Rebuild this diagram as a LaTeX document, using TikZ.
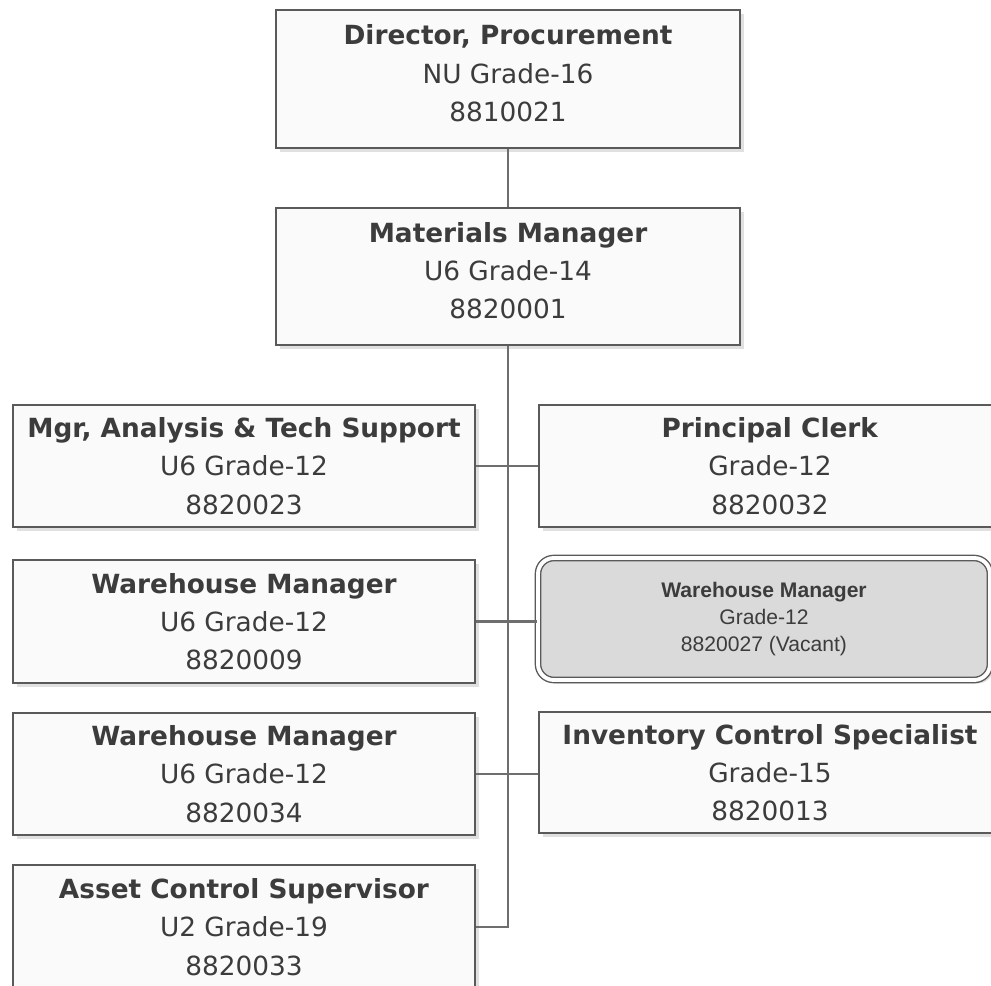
\documentclass[tikz,border=0pt]{standalone}
\usepackage{fontspec}
\setmainfont{DejaVu Sans}
\newfontfamily\arialfont{Liberation Sans}
\usetikzlibrary{shadows}
\definecolor{inkgray}{HTML}{3C3C3C}
\definecolor{linegray}{HTML}{5A5A5A}
\definecolor{linkgray}{HTML}{6E6E6E}
\definecolor{boxfill}{HTML}{FAFAFA}
\definecolor{vacfill}{HTML}{DADADA}
\tikzset{
  x=0.02cm, y=-0.02cm,
  post/.style={draw=linegray, line width=1pt, fill=boxfill, text=inkgray,
    align=center, inner sep=0pt,
    font=\fontsize{15pt}{21.8pt}\selectfont,
    drop shadow={shadow xshift=2pt, shadow yshift=-2pt, fill=black, opacity=0.12}},
  vacant/.style={draw=linegray, double=white, double distance=2.2pt, line width=0.8pt,
    rounded corners=9pt, fill=vacfill, text=inkgray, align=center, inner sep=0pt,
    font=\arialfont\fontsize{12pt}{15.6pt}\selectfont,
    drop shadow={shadow xshift=2pt, shadow yshift=-2pt, fill=black, opacity=0.12}},
  link/.style={draw=linkgray, line width=1.5pt},
}
% three-line post label: title, grade, position number
\newcommand{\pbox}[3]{\textbf{#1}\\#2\\#3}
% same label, set a little above centre in the taller boxes
\newcommand{\pboxtall}[3]{\textbf{#1}\\#2\\#3\\[-15pt]\mbox{}}
\begin{document}
\begin{tikzpicture}
\useasboundingbox (0,0) rectangle (991,986);
\begin{scope}
\clip (0,0) rectangle (991,986);

% upper chain
\node[post, minimum width=464*0.02cm, minimum height=138*0.02cm] (dir) at (508,79)
  {\pboxtall{Director, Procurement}{NU Grade-16}{8810021}};
\node[post, minimum width=464*0.02cm, minimum height=137*0.02cm] (mat) at (508,276.5)
  {\pboxtall{Materials Manager}{U6 Grade-14}{8820001}};

% left column
\node[post, minimum width=462*0.02cm, minimum height=122*0.02cm] (mgr) at (244,466)
  {\pbox{Mgr, Analysis \& Tech Support}{U6 Grade-12}{8820023}};
\node[post, minimum width=462*0.02cm, minimum height=123*0.02cm] (whA) at (244,621.5)
  {\pbox{Warehouse Manager}{U6 Grade-12}{8820009}};
\node[post, minimum width=462*0.02cm, minimum height=122*0.02cm] (whB) at (244,774)
  {\pbox{Warehouse Manager}{U6 Grade-12}{8820034}};
\node[post, minimum width=462*0.02cm, minimum height=124*0.02cm] (asset) at (244,927)
  {\pbox{Asset Control Supervisor}{U2 Grade-19}{8820033}};

% right column
\node[post, minimum width=462*0.02cm, minimum height=122*0.02cm] (clerk) at (770,466)
  {\pbox{Principal Clerk}{Grade-12}{8820032}};
\node[vacant, minimum width=452*0.02cm, minimum height=122*0.02cm] (vac) at (764,619)
  {\textbf{Warehouse Manager}\\Grade-12\\8820027 (Vacant)};
\node[post, minimum width=462*0.02cm, minimum height=121*0.02cm] (inv) at (770,772.5)
  {\pbox{Inventory Control Specialist}{Grade-15}{8820013}};

% reporting lines
\draw[link] (dir.south) -- (mat.north);
\draw[link] (mat.south) -- (mat.south |- asset.east) -- (asset.east);
\draw[link] (mgr.east) -- (mgr.east -| clerk.west);
\draw[link] (whA.east) -- (whA.east -| vac.west);
\draw[link] (whB.east) -- (whB.east -| inv.west);
\end{scope}
\end{tikzpicture}
\end{document}
